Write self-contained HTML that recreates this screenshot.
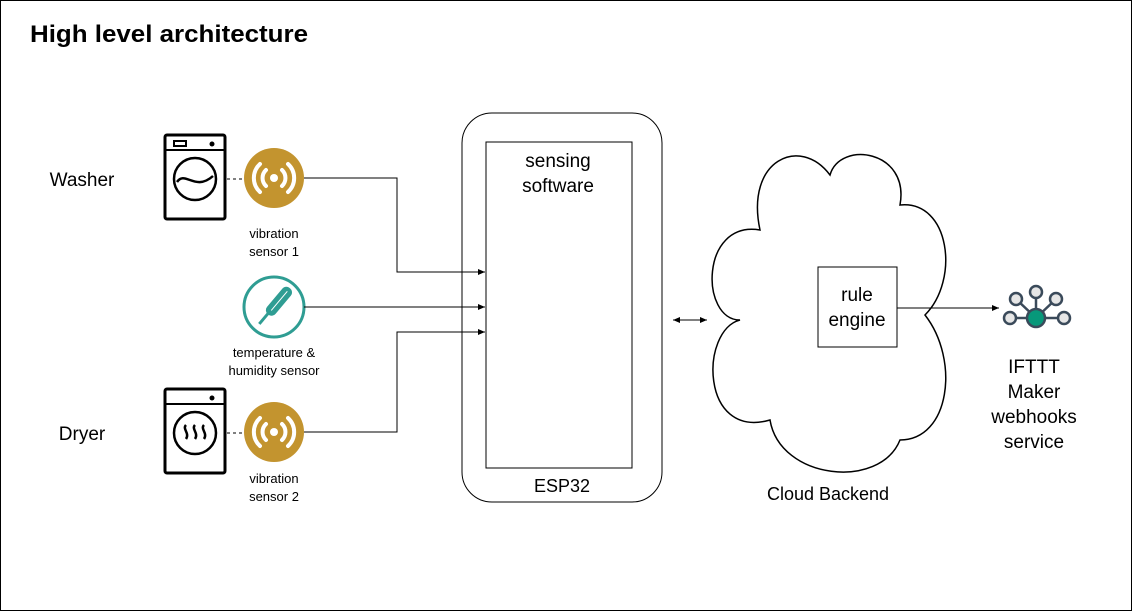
<!DOCTYPE html>
<html><head><style>
body{margin:0;background:#fff}
svg text{font-family:"Liberation Sans",Arial,sans-serif}
</style></head><body>
<svg width="1132" height="611" viewBox="0 0 1132 611" xmlns="http://www.w3.org/2000/svg">
<defs><marker id="a" markerWidth="8" markerHeight="8" refX="7" refY="4" orient="auto-start-reverse" markerUnits="userSpaceOnUse"><path d="M0,1 L7,4 L0,7 Z" fill="#000"/></marker></defs>
<rect x="0.5" y="0.5" width="1131" height="610" fill="#fff" stroke="#000"/>
<text x="30" y="42" font-size="24" font-weight="bold" textLength="278" lengthAdjust="spacingAndGlyphs">High level architecture</text>
<text x="82" y="186" font-size="19" text-anchor="middle">Washer</text>
<text x="82" y="440" font-size="19" text-anchor="middle">Dryer</text>
<g stroke="#000" fill="none" stroke-width="3">
<rect x="165" y="135" width="60" height="84" rx="2"/>
<line x1="165" y1="150" x2="225" y2="150" stroke-width="2"/>
<rect x="174" y="141" width="12" height="5" stroke-width="2"/>
<circle cx="195" cy="179" r="21" stroke-width="2.5"/>
<path d="M177,182 C185,170 195,192 213,176" stroke-width="2.5"/>
<rect x="165" y="389" width="60" height="84" rx="2"/>
<line x1="165" y1="404" x2="225" y2="404" stroke-width="2"/>
<circle cx="195" cy="433" r="21" stroke-width="2.5"/>
<path d="M186,425 c-4,4 4,8 0,14 M195,425 c-4,4 4,8 0,14 M204,425 c-4,4 4,8 0,14" stroke-width="2.5"/>
</g>
<circle cx="212" cy="144" r="2.5" fill="#000"/><circle cx="212" cy="398" r="2.5" fill="#000"/>
<g stroke="#000" stroke-dasharray="3,3"><line x1="227" y1="179" x2="244" y2="179"/><line x1="227" y1="433" x2="244" y2="433"/></g>
<g>
<circle cx="274" cy="178" r="30" fill="#c3942f"/>
<circle cx="274" cy="178" r="4" fill="#fff"/>
<g fill="none" stroke="#fff" stroke-width="4" stroke-linecap="round"><path d="M266,170 a11,11 0 0 0 0,16 M282,170 a11,11 0 0 1 0,16 M260,164 a19,19 0 0 0 0,28 M288,164 a19,19 0 0 1 0,28"/></g>
<circle cx="274" cy="432" r="30" fill="#c3942f"/>
<circle cx="274" cy="432" r="4" fill="#fff"/>
<g fill="none" stroke="#fff" stroke-width="4" stroke-linecap="round"><path d="M266,424 a11,11 0 0 0 0,16 M282,424 a11,11 0 0 1 0,16 M260,418 a19,19 0 0 0 0,28 M288,418 a19,19 0 0 1 0,28"/></g>
<circle cx="274" cy="307" r="30" fill="#fff" stroke="#2f9d93" stroke-width="3"/>
<g transform="rotate(40 276 304)">
<rect x="271" y="283" width="11" height="34" rx="5" fill="#2f9d93"/>
<line x1="276.5" y1="287" x2="276.5" y2="312" stroke="#fff" stroke-width="1"/>
<line x1="276" y1="314" x2="276" y2="330" stroke="#2f9d93" stroke-width="3"/>
</g>
</g>
<g font-size="13" text-anchor="middle">
<text x="274" y="238">vibration</text><text x="274" y="256">sensor 1</text>
<text x="274" y="357">temperature &amp;</text><text x="274" y="375">humidity sensor</text>
<text x="274" y="483">vibration</text><text x="274" y="501">sensor 2</text>
</g>
<rect x="462" y="113" width="200" height="389" rx="30" fill="#fff" stroke="#000"/>
<rect x="486" y="142" width="146" height="326" fill="#fff" stroke="#000"/>
<text x="558" y="167" font-size="19" text-anchor="middle">sensing</text>
<text x="558" y="192" font-size="19" text-anchor="middle">software</text>
<text x="562" y="492" font-size="18" text-anchor="middle">ESP32</text>
<g stroke="#000" fill="none">
<polyline points="304,178 397,178 397,272 485,272" marker-end="url(#a)"/>
<line x1="304" y1="307" x2="485" y2="307" marker-end="url(#a)"/>
<polyline points="304,432 397,432 397,332 485,332" marker-end="url(#a)"/>
<line x1="673" y1="320" x2="707" y2="320" marker-start="url(#a)" marker-end="url(#a)"/>
</g>
<path d="M760,230 C700,220 700,320 740,320 C700,330 700,440 770,420 C780,480 880,490 900,440 C950,440 960,360 925,315 C960,280 950,200 900,205 C910,150 840,140 830,175 C800,135 745,160 760,230 Z" fill="#fff" stroke="#000" stroke-width="1.5"/>
<text x="828" y="500" font-size="18" text-anchor="middle">Cloud Backend</text>
<rect x="818" y="267" width="79" height="80" fill="#fff" stroke="#000"/>
<text x="857" y="301" font-size="19" text-anchor="middle">rule</text>
<text x="857" y="326" font-size="19" text-anchor="middle">engine</text>
<line x1="897" y1="308" x2="999" y2="308" stroke="#000" marker-end="url(#a)"/>
<g stroke="#3a4a5a" stroke-width="2.5" fill="#e6e6e6">
<line x1="1036" y1="318" x2="1036" y2="293"/><line x1="1036" y1="318" x2="1016" y2="299"/><line x1="1036" y1="318" x2="1056" y2="299"/><line x1="1036" y1="318" x2="1010" y2="318"/><line x1="1036" y1="318" x2="1064" y2="318"/>
<circle cx="1036" cy="292" r="6"/><circle cx="1016" cy="299" r="6"/><circle cx="1056" cy="299" r="6"/><circle cx="1010" cy="318" r="6"/><circle cx="1064" cy="318" r="6"/>
<circle cx="1036" cy="318" r="9" fill="#07987a"/>
</g>
<g font-size="19" text-anchor="middle">
<text x="1034" y="373">IFTTT</text><text x="1034" y="398">Maker</text><text x="1034" y="423">webhooks</text><text x="1034" y="448">service</text>
</g>
</svg>
</body></html>
